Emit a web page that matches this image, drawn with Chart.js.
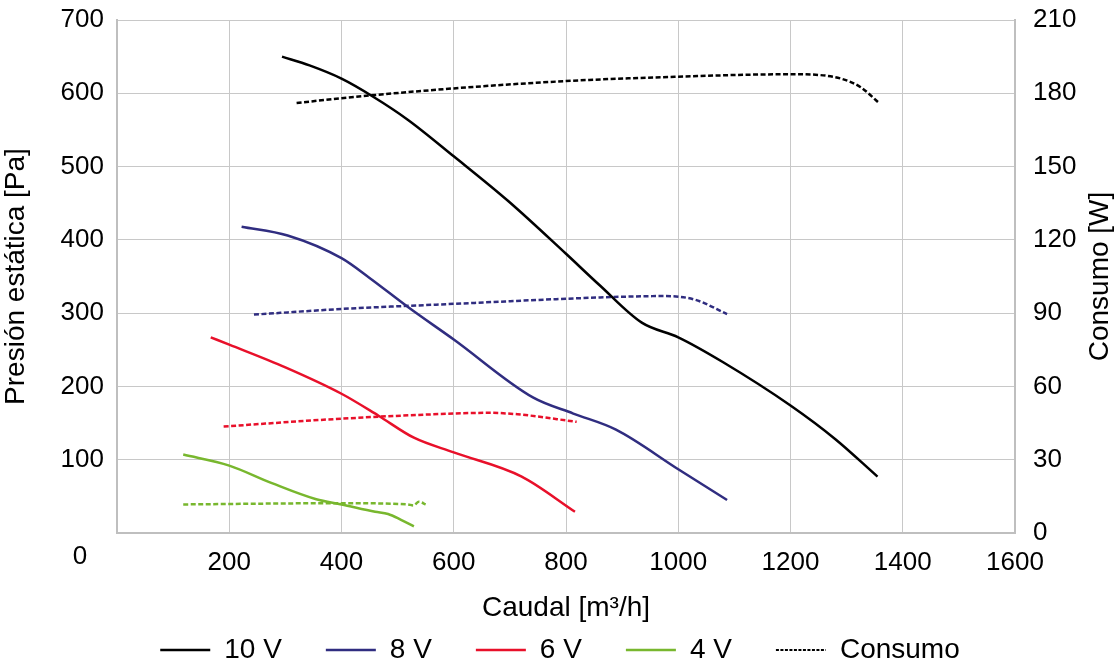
<!DOCTYPE html>
<html lang="es">
<head>
    <meta charset="UTF-8">
    <title>Curvas caudal - presión</title>
    <script src="https://cdn.jsdelivr.net/npm/chart.js"></script>
    <style>
        body {
            margin: 0;
            background-color: white;
        }
        .chart-box {
            width: 1120px;
            height: 667px;
        }
    </style>
</head>
<body>
    <div class="chart-box">
        <canvas id="curvas"></canvas>
    </div>

    <script>
        // Presión estática [Pa] frente a caudal [m3/h]
        const caudal10V = [294, 343, 400, 455, 518, 600, 697, 800, 860, 935, 1000, 1080, 1200, 1280, 1355];
        const presion10V = [650, 638, 620, 596, 564, 514, 453, 381, 338, 287, 267, 233, 174, 128, 77];
        const caudal8V = [222, 304, 400, 450, 519, 600, 741, 813, 889, 1000, 1087];
        const presion8V = [418, 406, 375, 348, 308, 264, 185, 163, 141, 87, 45];
        const caudal6V = [167, 200, 300, 400, 466, 529, 600, 721, 816];
        const presion6V = [267, 257, 226, 190, 160, 130, 110, 77, 29];
        const caudal4V = [118, 200, 276, 355, 400, 460, 483, 506, 529];
        const presion4V = [107, 92, 68, 46, 39, 29, 26, 18, 9];

        // Consumo [W] frente a caudal
        const caudalC10V = [320, 400, 600, 800, 1000, 1200, 1250, 1290, 1325, 1358];
        const consumo10V = [176, 178, 182, 185, 186.8, 187.8, 187.5, 186, 182.5, 176];
        const caudalC8V = [244, 400, 600, 800, 900, 975, 1030, 1087];
        const consumo8V = [89.4, 91.7, 93.8, 95.9, 96.7, 97, 95.5, 89.6];
        const caudalC6V = [190, 400, 600, 660, 714, 819];
        const consumo6V = [43.6, 46.8, 48.9, 49.2, 48.6, 45.5];
        const caudalC4V = [118, 400, 518, 528, 538, 550];
        const consumo4V = [11.7, 12.2, 11.7, 11.3, 12.8, 11.7];

        const colores = {
            v10: '#000000',
            v8: '#302d80',
            v6: '#e8102a',
            v4: '#78b72e'
        };

        const fuente = "'Liberation Sans', Arial, sans-serif";
        Chart.defaults.font.family = fuente;
        Chart.defaults.color = '#000';

        function puntos(xs, ys) {
            return xs.map((x, i) => ({ x: x, y: ys[i] }));
        }

        function curva(label, xs, ys, color) {
            return {
                label: label,
                data: puntos(xs, ys),
                borderColor: color,
                backgroundColor: color,
                borderWidth: 2.5,
                pointRadius: 0,
                cubicInterpolationMode: 'monotone',
                yAxisID: 'y'
            };
        }

        function consumo(label, xs, ys, color) {
            return {
                label: label,
                data: puntos(xs, ys),
                borderColor: color,
                backgroundColor: color,
                borderWidth: 2.5,
                borderDash: [5, 2.5],
                pointRadius: 0,
                cubicInterpolationMode: 'monotone',
                yAxisID: 'y1'
            };
        }

        // textos que no son de ningun eje: el "0" suelto y el titulo derecho
        const textosExtra = {
            id: 'textosExtra',
            afterDraw(chart) {
                const area = chart.chartArea;
                const ctx = chart.ctx;
                ctx.save();
                ctx.fillStyle = '#000';
                ctx.textAlign = 'center';
                ctx.textBaseline = 'middle';
                ctx.font = '26px ' + fuente;
                ctx.fillText('0', area.left - 37, area.bottom + 24);
                ctx.translate(area.right + 85, (area.top + area.bottom) / 2);
                ctx.rotate(-Math.PI / 2);
                ctx.font = '28px ' + fuente;
                ctx.fillText('Consumo [W]', 0, 0);
                ctx.restore();
            }
        };

        const gris = '#c8c8c8';

        function anchoFijo(w) {
            return s => {
                s.width = w;
                s.paddingTop = 0;
                s.paddingBottom = 0;
            };
        }

        new Chart(document.getElementById('curvas'), {
            type: 'line',
            data: {
                datasets: [
                    curva('10 V', caudal10V, presion10V, colores.v10),
                    curva('8 V', caudal8V, presion8V, colores.v8),
                    curva('6 V', caudal6V, presion6V, colores.v6),
                    curva('4 V', caudal4V, presion4V, colores.v4),
                    consumo('Consumo', caudalC10V, consumo10V, colores.v10),
                    consumo('Consumo 8 V', caudalC8V, consumo8V, colores.v8),
                    consumo('Consumo 6 V', caudalC6V, consumo6V, colores.v6),
                    consumo('Consumo 4 V', caudalC4V, consumo4V, colores.v4)
                ]
            },
            options: {
                responsive: true,
                maintainAspectRatio: false,
                animation: false,
                layout: {
                    padding: { top: 20, bottom: -7, left: 0, right: 0 }
                },
                plugins: {
                    tooltip: { enabled: false },
                    legend: {
                        position: 'bottom',
                        labels: {
                            usePointStyle: true,
                            pointStyle: 'line',
                            pointStyleWidth: 50,
                            padding: 44,
                            color: '#000',
                            font: { size: 28 },
                            generateLabels: chart => {
                                const items = Chart.defaults.plugins.legend.labels.generateLabels(chart);
                                return items
                                    .filter(item => item.datasetIndex < 5)
                                    .map(item => {
                                        const ds = chart.data.datasets[item.datasetIndex];
                                        if (ds.borderDash) {
                                            item.lineDash = [3, 1.5];
                                            item.lineWidth = 2;
                                        }
                                        return item;
                                    });
                            }
                        }
                    }
                },
                scales: {
                    x: {
                        type: 'linear',
                        min: 0,
                        max: 1600,
                        afterFit: s => {
                            s.height = 59;
                            s.paddingLeft = 0;
                            s.paddingRight = 0;
                        },
                        ticks: {
                            stepSize: 200,
                            padding: 14,
                            font: { size: 26 },
                            callback: v => v === 0 ? '' : v
                        },
                        grid: { color: gris, drawTicks: false },
                        border: { color: '#bfbfbf', width: 2 },
                        title: {
                            display: true,
                            text: 'Caudal [m³/h]',
                            font: { size: 28, lineHeight: 1 },
                            padding: { top: 0, bottom: -30 }
                        }
                    },
                    y: {
                        position: 'left',
                        min: 0,
                        max: 700,
                        afterFit: anchoFijo(117),
                        ticks: {
                            stepSize: 100,
                            padding: 13,
                            font: { size: 26 },
                            callback: v => v === 0 ? '' : v
                        },
                        grid: { color: gris, drawTicks: false },
                        border: { color: '#bfbfbf', width: 2 },
                        title: {
                            display: true,
                            text: 'Presión estática [Pa]',
                            font: { size: 28, lineHeight: 1 },
                            padding: { top: 2, bottom: 0 }
                        }
                    },
                    y1: {
                        position: 'right',
                        min: 0,
                        max: 210,
                        afterFit: anchoFijo(105),
                        ticks: {
                            stepSize: 30,
                            padding: 18,
                            font: { size: 26 }
                        },
                        grid: { display: false, drawTicks: false },
                        border: { color: '#bfbfbf', width: 2 }
                    }
                }
            },
            plugins: [textosExtra]
        });
    </script>
</body>
</html>
